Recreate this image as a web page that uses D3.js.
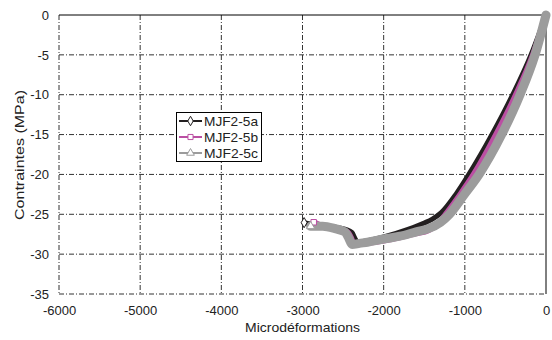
<!DOCTYPE html>
<html><head><meta charset="utf-8">
<script src="https://cdn.jsdelivr.net/npm/d3@7"></script>
<style>body{margin:0;background:#fff}text{font-family:"Liberation Sans",Arial,sans-serif}</style>
</head><body><svg id="c" width="552" height="340"></svg>
<script>
const xTicks = [-6000,-5000,-4000,-3000,-2000,-1000,0];
const yTicks = [0,-5,-10,-15,-20,-25,-30,-35];
const seriesNames = ["MJF2-5a","MJF2-5b","MJF2-5c"];
const strainA = [0,-185,-410,-665,-950,-1110,-1290,-1400,-1500,-1700,-2000,-2200,-2320,-2350,-2390,-2470,-2600,-2800,-2980];
const stressA = [0,-5,-10,-15,-20,-22.5,-24.8,-25.6,-26.1,-26.9,-27.85,-28.3,-28.5,-28.1,-27.3,-26.9,-26.6,-26.4,-26.05];
const strainB = [0,-160,-370,-615,-890,-1055,-1235,-1330,-1450,-1600,-1800,-2000,-2200,-2370,-2400,-2450,-2600,-2750,-2862];
const stressB = [0,-5,-10,-15,-20,-22.5,-25,-26.2,-27.0,-27.4,-27.9,-28.3,-28.6,-28.8,-28.0,-27.2,-26.8,-26.5,-26.0];
const strainC = [0,-135,-320,-546,-825,-1005,-1190,-1300,-1450,-1600,-1800,-2000,-2200,-2300,-2390,-2430,-2480,-2600,-2750,-2900];
const stressC = [0,-5,-10,-15,-20,-22.5,-25,-26.0,-26.8,-27.2,-27.75,-28.1,-28.5,-28.65,-28.8,-28.0,-27.2,-26.8,-26.5,-26.5];

const svg = d3.select("#c");
const L=59,R=546,T=15,B=294;
const x = d3.scaleLinear().domain([-6000,0]).range([L,R]);
const y = d3.scaleLinear().domain([-35,0]).range([B,T]);
const dash = "5,2,1,2";
const g = svg.append("g");
g.selectAll(".gx").data(xTicks.slice(0,-1)).join("line")
 .attr("x1",d=>x(d)).attr("x2",d=>x(d)).attr("y1",T).attr("y2",B)
 .attr("stroke","#333").attr("stroke-width",1).attr("stroke-dasharray",dash);
g.selectAll(".gy").data(yTicks.slice(1)).join("line")
 .attr("y1",d=>y(d)).attr("y2",d=>y(d)).attr("x1",L).attr("x2",R)
 .attr("stroke","#333").attr("stroke-width",1).attr("stroke-dasharray",dash);
g.append("line").attr("x1",L).attr("x2",R).attr("y1",T).attr("y2",T).attr("stroke","#000");
g.append("line").attr("x1",R).attr("x2",R).attr("y1",T).attr("y2",B).attr("stroke","#000");

const xa = svg.append("g").attr("transform",`translate(0,${B})`).call(d3.axisBottom(x).tickValues(xTicks).tickSize(0).tickPadding(12).tickFormat(d=>d));
const ya = svg.append("g").attr("transform",`translate(${L},0)`).call(d3.axisLeft(y).tickValues(yTicks).tickSize(0).tickPadding(10).tickFormat(d=>d));
[xa,ya].forEach(a=>{a.select(".domain").remove();a.selectAll("text").attr("font-size",13).attr("fill","#222").attr("font-family","Liberation Sans, Arial, sans-serif");});
svg.append("text").attr("x",(L+R)/2).attr("y",332).attr("text-anchor","middle").attr("font-size",13.5).attr("fill","#222")
 .attr("textLength",115).attr("lengthAdjust","spacingAndGlyphs").text("Microdéformations");
svg.append("text").attr("transform",`translate(23.5,155) rotate(-90)`).attr("text-anchor","middle").attr("font-size",13.5).attr("fill","#222")
 .attr("textLength",130).attr("lengthAdjust","spacingAndGlyphs").text("Contraintes (MPa)");

const colors = ["#231f20","#bb4fa3","#9c9c9c"];
const widths = [5,6,9];
const data = [d3.zip(strainA,stressA),d3.zip(strainB,stressB),d3.zip(strainC,stressC)];
const line = d3.line().x(d=>x(d[0])).y(d=>y(d[1])).curve(d3.curveMonotoneX);
const sym = [d3.symbolDiamond,d3.symbolSquare,d3.symbolTriangle];
data.forEach((d,i)=>{
  svg.append("path").datum(d).attr("d",line).attr("fill","none").attr("stroke",colors[i]).attr("stroke-width",widths[i]).attr("stroke-linejoin","round").attr("stroke-linecap","round");
});
data.forEach((d,i)=>{
  const p = d[d.length-1];
  svg.append("path").attr("d",d3.symbol(sym[i],30)()).attr("transform",`translate(${x(p[0])},${y(p[1])})`).attr("fill","#fff").attr("stroke",colors[i]).attr("stroke-width",1);
});
const lg = svg.append("g");
lg.append("rect").attr("x",176.5).attr("y",112.5).attr("width",85).attr("height",49).attr("fill","#fff").attr("stroke","#000");
seriesNames.forEach((n,i)=>{
  const yy = 121+i*16;
  lg.append("line").attr("x1",179).attr("x2",202).attr("y1",yy).attr("y2",yy).attr("stroke",colors[i]).attr("stroke-width",2);
  lg.append("path").attr("d",d3.symbol(sym[i],26)()).attr("transform",`translate(190.5,${yy})`).attr("fill","#fff").attr("stroke",colors[i]).attr("stroke-width",1);
  lg.append("text").attr("x",204).attr("y",yy+4.5).attr("font-size",13).attr("fill","#222")
    .attr("textLength",54).attr("lengthAdjust","spacingAndGlyphs").text(n);
});
</script></body></html>
